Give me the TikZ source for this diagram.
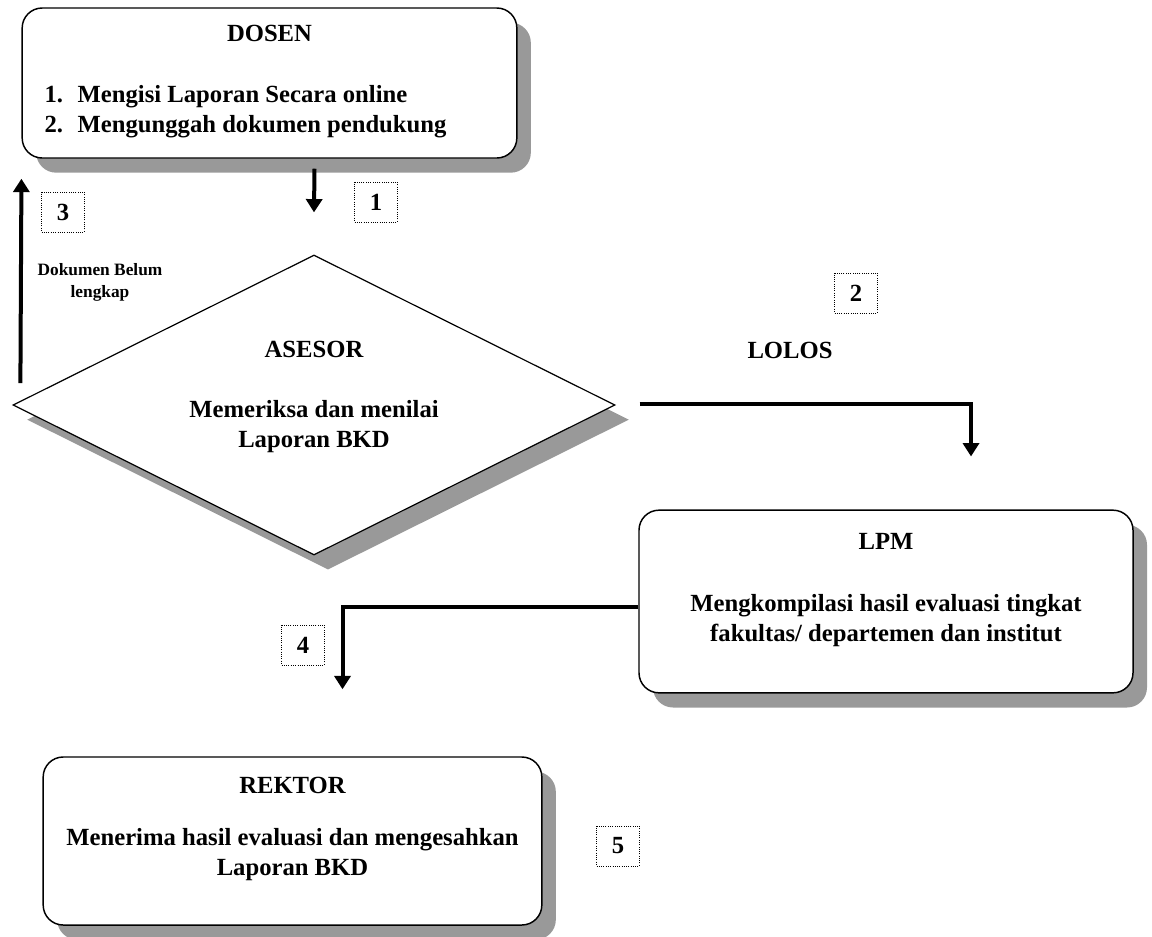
\documentclass[tikz,border=0pt]{standalone}
\usepackage{fontspec}
\setmainfont{Liberation Serif}
\usetikzlibrary{arrows.meta,shapes.geometric,shadows}

\begin{document}
\begin{tikzpicture}[
    x=0.75pt, y=-0.75pt,
    font=\fontsize{18.5}{22.5}\selectfont\bfseries,
    flow/.style={draw=black, line width=3pt, -{Triangle[width=12pt,length=10pt]}},
    shade/.style={drop shadow={shadow xshift=10.5pt, shadow yshift=-11pt,
        fill=black!40, opacity=1}},
    block/.style={
        draw=black,
        rounded corners=15pt,
        line width=1.1pt,
        fill=white,
        shade,
        align=center,
        inner sep=0pt
    },
    decision/.style={
        diamond,
        draw=black,
        line width=0.9pt,
        fill=white,
        shade,
        aspect=2,
        align=center,
        inner sep=0pt
    },
    numbox/.style={
        draw=black,
        densely dotted,
        line width=0.7pt,
        minimum width=32pt,
        minimum height=30pt,
        inner sep=0pt
    },
    note/.style={
        font=\fontsize{13}{16.5}\selectfont\bfseries,
        align=center
    }
]
\useasboundingbox (0,0) rectangle (1152,936);

\node[block, minimum width=371pt, minimum height=112.5pt] (dosen) at (269.5,83)
{DOSEN\\[29pt]
 \begin{tabular}{@{}l@{\hspace{11pt}}l@{}}
 1. & Mengisi Laporan Secara online\\
 2. & Mengunggah dokumen pendukung
 \end{tabular}\hspace*{36pt}};

\node[decision, minimum width=451.5pt, minimum height=225pt, text depth=16pt]
    (asesor) at (314,405)
{ASESOR\\[22pt]Memeriksa dan menilai\\Laporan BKD};

\node[block, minimum width=370.5pt, minimum height=137pt, text depth=20.5pt]
    (lpm) at (886,601.5)
{LPM\\[24pt]Mengkompilasi hasil evaluasi tingkat\\fakultas/ departemen dan institut};

\node[block, minimum width=374pt, minimum height=126pt, text depth=22pt]
    (rektor) at (292.5,841)
{REKTOR\\[16pt]Menerima hasil evaluasi dan mengesahkan\\Laporan BKD};

\node[numbox] (n1) at (376,202) {1};
\node[numbox] (n2) at (856,293) {2};
\node[numbox] (n3) at (63,212) {3};
\node[numbox] (n4) at (303,645) {4};
\node[numbox] (n5) at (618,846) {5};

\node (lolos) at (790,350) {LOLOS};
\node[note] (belum) at (100,282) {Dokumen Belum\\lengkap};

\draw[flow] ([shift={(45,10)}]dosen.south) -- ([shift={(0,-42)}]asesor.north);
\draw[flow] ([shift={(24,-1)}]asesor.east) -| ([shift={(85,-53)}]lpm.north);
\draw[flow] ([shift={(8,-22)}]asesor.west) -- ([shift={(0,20)}]dosen.south west);
\draw[flow] ([shift={(0,5)}]lpm.west) -| ([shift={(50,-67)}]rektor.north);

\end{tikzpicture}
\end{document}
